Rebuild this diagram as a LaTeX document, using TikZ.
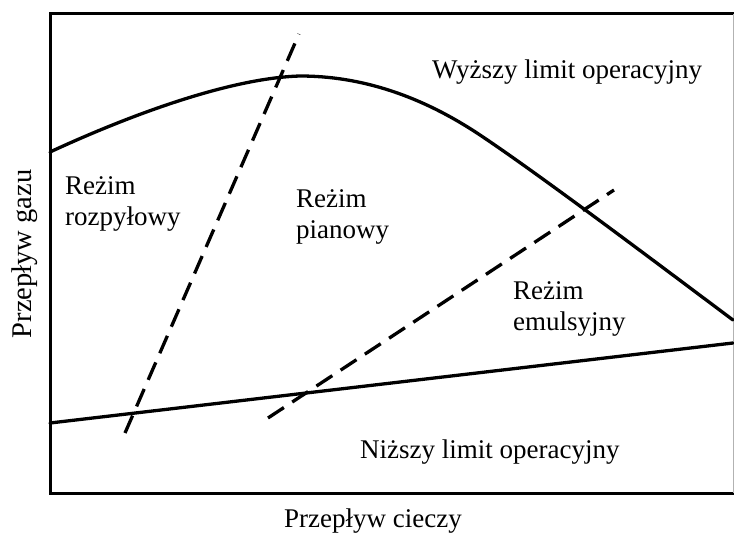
\documentclass[tikz,border=0pt]{standalone}
\usepackage{fontspec}
\setmainfont{Liberation Serif}
\begin{document}
\begin{tikzpicture}[x=1pt,y=-1pt,
  lbl/.style={inner sep=0pt, anchor=base west, font=\fontsize{27}{31}\selectfont, align=left},
  axlbl/.style={inner sep=0pt, anchor=base, font=\fontsize{27}{31}\selectfont},
  limit/.style={line width=3.3pt, line join=round, line cap=round},
  bound/.style={line width=3.3pt, dash pattern=on 19pt off 10pt},
  frameline/.style={line width=3pt}]
\useasboundingbox (0,0) rectangle (734,535);

% frame of the operating chart
\coordinate (tl) at (50,14);
\coordinate (bl) at (50,493);
\coordinate (tr) at (734,14);
\coordinate (br) at (734,493);
\draw[frameline, line cap=rect] (tr) -- (tl) -- (bl) -- (br);
\draw[gray!60, line width=1pt] (733,14) -- (733,493);

% upper operating limit
\coordinate (upA) at (50,152);
\coordinate (upPeak) at (300,76);
\coordinate (upMid) at (480,135);
\coordinate (upB) at (733,320);
\draw[limit] (upA) .. controls (130,115) and (230,78) .. (upPeak)
  .. controls (360,76) and (420,95) .. (upMid)
  .. controls (540,175) and (650,258) .. (upB);

% lower operating limit
\coordinate (lowA) at (50,423);
\coordinate (lowB) at (733,343);
\draw[limit] (lowA) -- (lowB);

% regime boundaries
\coordinate (d1a) at (125,433);
\coordinate (d1b) at (299,34);
\coordinate (d2a) at (268,418);
\coordinate (d2b) at (614,190);
\draw[bound] (d1a) -- (d1b);
\draw[bound] (d2a) -- (d2b);

% region labels (anchored at the baseline of the last line)
\node[lbl] (upper) at (432,78) {Wyższy limit operacyjny};
\node[lbl] (spray) at (65,225) {Reżim\\rozpyłowy};
\node[lbl] (foam) at (296,238) {Reżim\\pianowy};
\node[lbl] (emul) at (513,330) {Reżim\\emulsyjny};
\node[lbl] (lower) at (360,458) {Niższy limit operacyjny};

% axis labels
\node[axlbl] (xlab) at (373,527) {Przepływ cieczy};
\node[axlbl, rotate=90, font=\fontsize{28.5}{32}\selectfont] (ylab) at (31,254) {Przepływ gazu};
\end{tikzpicture}
\end{document}
